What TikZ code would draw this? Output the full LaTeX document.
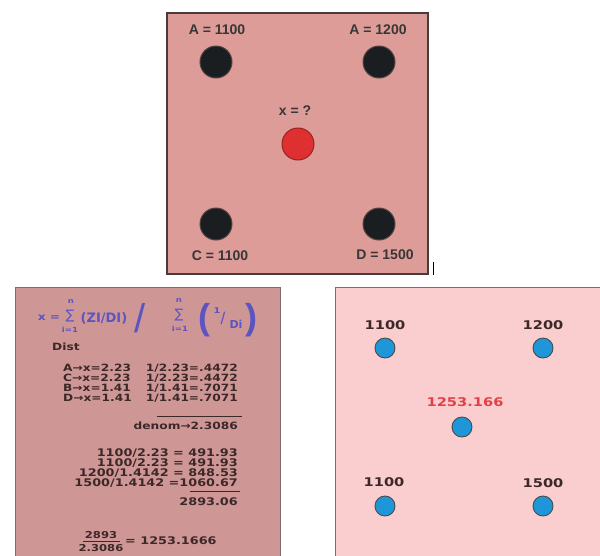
\documentclass[tikz,border=0pt]{standalone}
\usepackage{fontspec}
\usepackage{graphicx}
\setmainfont{Liberation Sans}
\newfontfamily\wideb{DejaVu Sans}[FakeStretch=1.22]
\newfontfamily\plainb{DejaVu Sans}
\definecolor{topfill}{RGB}{221,156,151}
\definecolor{topedge}{RGB}{70,60,60}
\definecolor{labgray}{RGB}{55,55,55}
\definecolor{dotdark}{RGB}{26,30,32}
\definecolor{dotred}{RGB}{222,48,48}
\definecolor{leftfill}{RGB}{206,151,150}
\definecolor{rightfill}{RGB}{250,206,206}
\definecolor{boxedge}{RGB}{125,110,110}
\definecolor{calctext}{RGB}{60,40,40}
\definecolor{formblue}{RGB}{92,84,192}
\definecolor{dotblue}{RGB}{30,150,215}
\definecolor{resred}{RGB}{226,64,72}
\tikzset{
  toplabel/.style={font=\fontsize{14}{16}\selectfont\bfseries, text=labgray, inner sep=0},
  darkdot/.style={circle, fill=dotdark, draw=dotdark!70!topfill, line width=1pt, minimum size=32pt, inner sep=0},
  reddot/.style={circle, fill=dotred, draw=dotred!70!black, line width=1pt, minimum size=32pt, inner sep=0},
  bluedot/.style={circle, fill=dotblue, draw=dotdark!80, line width=0.9pt, minimum size=20pt, inner sep=0},
  calc/.style={font=\wideb\fontsize{10}{12}\selectfont\bfseries, text=calctext, inner sep=0},
  calcb/.style={font=\wideb\fontsize{10.5}{12}\selectfont\bfseries, text=calctext, inner sep=0},
  calcf/.style={font=\wideb\fontsize{9.5}{11}\selectfont\bfseries, text=calctext, inner sep=0},
  brlabel/.style={font=\wideb\fontsize{12}{14}\selectfont\bfseries, text=calctext, inner sep=0},
  rule/.style={draw=calctext, line width=0.9pt},
  fb/.style={text=formblue, inner sep=0, font=\plainb\fontsize{13}{15}\selectfont\bfseries},
  fsm/.style={text=formblue, inner sep=0, font=\wideb\fontsize{7}{8}\selectfont\bfseries},
  fsum/.style={text=formblue, inner sep=0, font=\plainb\fontsize{13}{13}\selectfont},
  fbig/.style={text=formblue, inner sep=0, font=\fontsize{40}{40}\selectfont},
  fpar/.style={text=formblue, inner sep=0, font=\fontsize{36}{36}\selectfont\bfseries},
}
\begin{document}
\begin{tikzpicture}[x=1pt, y=-1pt]
\useasboundingbox[fill=white] (0,0) rectangle (600,555);
% ---------- top panel ----------
\draw[fill=topfill, draw=topedge, line width=1.4pt] (167,13) rectangle (428,274);
\draw[draw=black, line width=1pt] (433,262) -- (433,275);
\node[darkdot] (A) at (216,62) {};
\node[darkdot] (B) at (379,62) {};
\node[reddot]  (X) at (298,144) {};
\node[darkdot] (C) at (216,224) {};
\node[darkdot] (D) at (379,224) {};
\node[toplabel] (lA) at (217,30) {A = 1100};
\node[toplabel] (lB) at (378,30) {A = 1200};
\node[toplabel] (lX) at (295,111) {x = ?};
\node[toplabel] (lC) at (220,256) {C = 1100};
\node[toplabel] (lD) at (385,255) {D = 1500};
% ---------- bottom left panel ----------
\draw[fill=leftfill, draw=boxedge, line width=1pt] (15,287) rectangle (280,560);
% formula
\node[fb, font=\wideb\fontsize{10}{11}\selectfont\bfseries] (fx) at (49,318) {x =};
\node[fsum] (s1) at (70,316) {∑};
\node[fsm] (n1) at (71,302) {n};
\node[fsm] (i1) at (70,330) {i=1};
\node[fb] (zd) at (104,318) {(ZI/DI)};
\node[fbig] (sl) at (140,318) {/};
\node[fsum] (s2) at (179,315) {∑};
\node[fsm] (n2) at (179,301) {n};
\node[fsm] (i2) at (180,329) {i=1};
\node[fpar] (pl) at (204,320) {(};
\node[fsm, font=\wideb\fontsize{8}{9}\selectfont\bfseries] (one) at (217,311) {1};
\node[fb, font=\fontsize{17}{18}\selectfont] (sl2) at (223,318) {/};
\node[fb, font=\plainb\fontsize{11}{12}\selectfont\bfseries] (di) at (236,324) {Di};
\node[fpar] (pr) at (251,320) {)};
% distances
\node[calc, anchor=west] (dist) at (52,347) {Dist};
\node[calc, anchor=west] (a1) at (63,368) {A→x=2.23};
\node[calc, anchor=west] (a2) at (63,378) {C→x=2.23};
\node[calc, anchor=west] (a3) at (63,388) {B→x=1.41};
\node[calc, anchor=west] (a4) at (63,398) {D→x=1.41};
\node[calc, anchor=east] (b1) at (238,368) {1/2.23=.4472};
\node[calc, anchor=east] (b2) at (238,378) {1/2.23=.4472};
\node[calc, anchor=east] (b3) at (238,388) {1/1.41=.7071};
\node[calc, anchor=east] (b4) at (238,398) {1/1.41=.7071};
\coordinate (r1s) at (157,416); \coordinate (r1e) at (242,416);
\draw[rule] (r1s) -- (r1e);
\node[calc, anchor=east] (den) at (238,426) {denom→2.3086};
% weighted values
\node[calcb, anchor=east] (c1) at (238,453) {1100/2.23 = 491.93};
\node[calcb, anchor=east] (c2) at (238,463) {1100/2.23 = 491.93};
\node[calcb, anchor=east] (c3) at (238,473) {1200/1.4142 = 848.53};
\node[calcb, anchor=east] (c4) at (238,483) {1500/1.4142 =1060.67};
\coordinate (r2s) at (190,491); \coordinate (r2e) at (240,491);
\draw[rule] (r2s) -- (r2e);
\node[calcb, anchor=east] (sum) at (238,502) {2893.06};
\node[calcf] (num) at (101,535) {2893};
\coordinate (r3s) at (83,541); \coordinate (r3e) at (120,541);
\draw[rule] (r3s) -- (r3e);
\node[calcf] (dnm) at (101,548) {2.3086};
\node[calcb, anchor=west] (res) at (125,541) {= 1253.1666};
% ---------- bottom right panel ----------
\draw[fill=rightfill, draw=boxedge, line width=1pt] (335,287) rectangle (610,560);
\node[bluedot] (p1) at (385,348) {};
\node[bluedot] (p2) at (543,348) {};
\node[bluedot] (p0) at (462,427) {};
\node[bluedot] (p3) at (385,506) {};
\node[bluedot] (p4) at (543,506) {};
\node[brlabel] (q1) at (385,325) {1100};
\node[brlabel] (q2) at (543,325) {1200};
\node[brlabel, text=resred] (q0) at (465,402) {1253.166};
\node[brlabel] (q3) at (384,482) {1100};
\node[brlabel] (q4) at (543,483) {1500};
\end{tikzpicture}
\end{document}
